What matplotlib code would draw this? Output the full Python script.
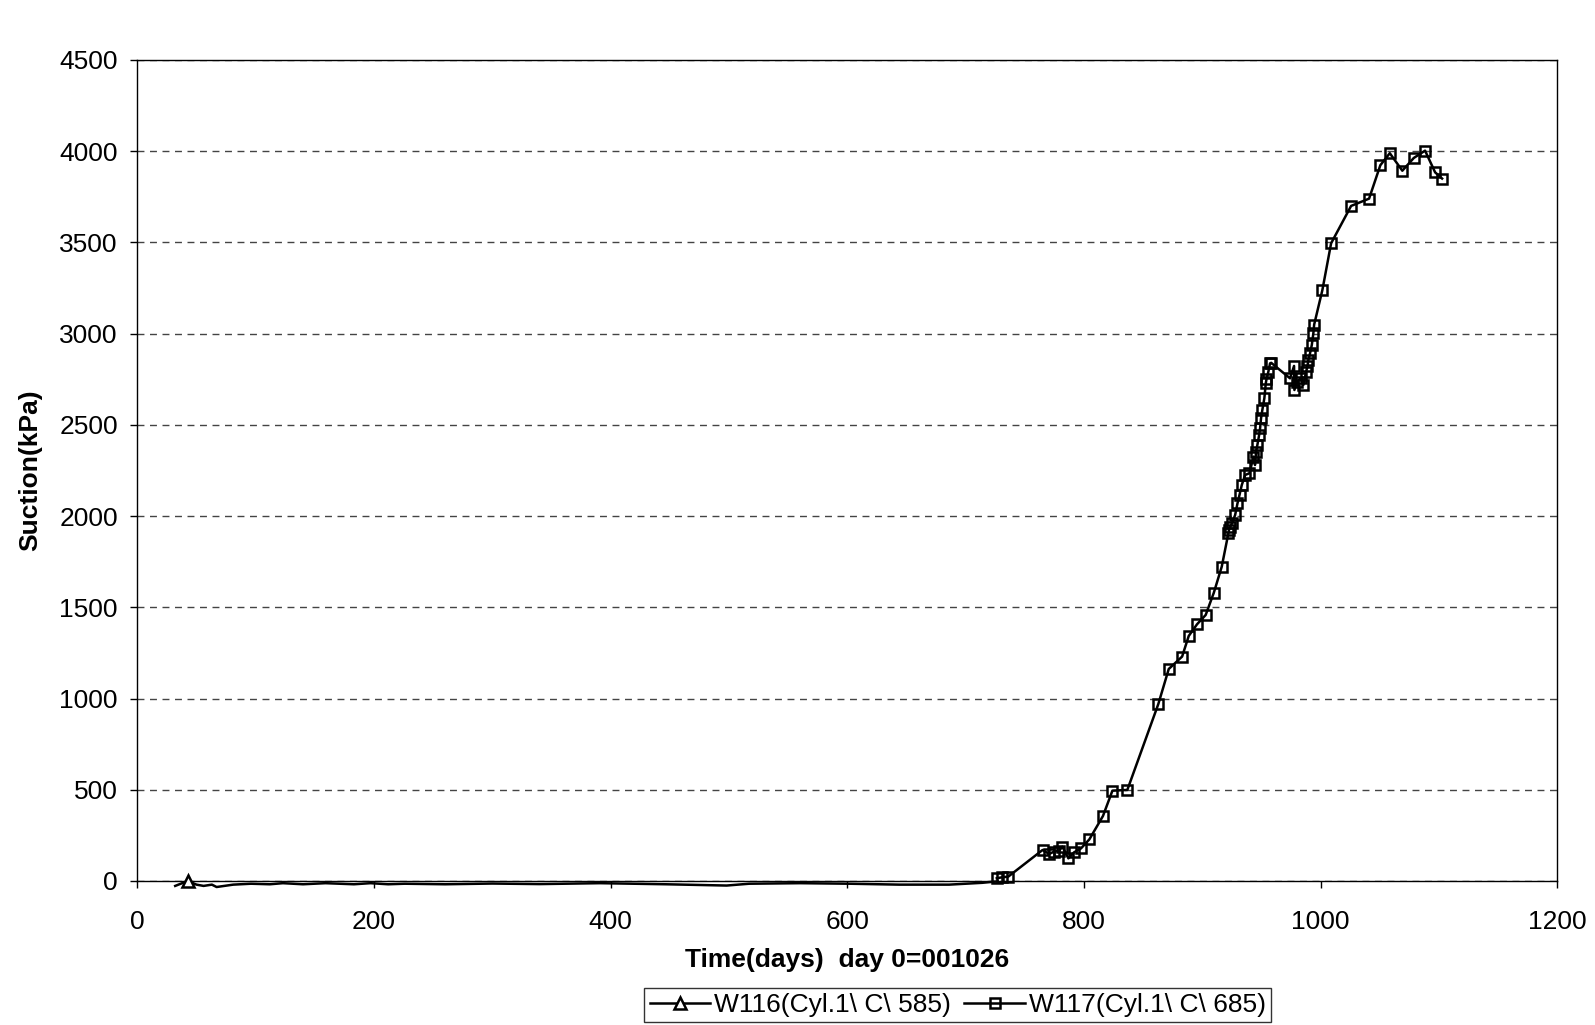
import matplotlib
matplotlib.use("Agg")
import matplotlib.pyplot as plt

plt.rcParams['font.family'] = ['Liberation Sans', 'DejaVu Sans']

# W116 (Cyl.1\ C\ 585) - only the first reading carries a marker in the original
w116_days = [32, 42.6, 50, 56, 63, 67, 81, 96, 112, 123, 140, 159, 183, 197, 212,
             226, 260, 300, 340, 391, 447, 498, 517, 560, 602, 644, 686, 714, 727]
w116_suction = [-27, 0, -20, -27, -20, -33, -20, -15, -18, -12, -18, -12, -18, -12, -18,
                -15, -18, -14, -17, -12, -18, -25, -15, -12, -15, -20, -20, -10, -2]

# W117 (Cyl.1\ C\ 685)
w117_days = [726.3, 730.5, 736, 765, 770.5, 774.7, 779, 781.7, 786.8, 791.6, 797.5,
             804.5, 816, 824, 836.6, 862.8, 871.6, 882.9, 888.5, 895.5, 902.8, 909.7,
             916.4, 922, 922.5, 923.5, 925, 927.7, 929.7, 931.4, 933.3, 936.1, 939.8,
             943.2, 944.5, 945.4, 946.5, 948, 948.8, 949.6, 950.7, 952.4, 953.6, 954.2,
             955.8, 957.2, 958.2, 974.1, 977.5, 977.8, 979.8, 983, 985.4, 987.7, 988.8,
             989.6, 991, 992.5, 993.8, 994.5, 1001.4, 1008.8, 1025.7, 1040.9, 1050.4,
             1058.4, 1069, 1078.7, 1088.2, 1096.7, 1102.6]
w117_suction = [15, 20, 24, 170, 148, 161, 166, 188, 124, 157, 179,
                228, 356, 495, 499, 970, 1162, 1230, 1343, 1407, 1458, 1580,
                1723, 1906, 1924, 1940, 1960, 2006, 2070, 2116, 2170, 2225, 2235,
                2326, 2280, 2353, 2390, 2445, 2481, 2536, 2582, 2646, 2728, 2750,
                2792, 2837, 2840, 2755, 2823, 2691, 2737, 2755, 2719, 2792, 2820,
                2856, 2892, 2938, 3002, 3050, 3238, 3495, 3700, 3740, 3923,
                3989, 3893, 3963, 4003, 3884, 3850]

x_ticks = [0, 200, 400, 600, 800, 1000, 1200]
y_ticks = [0, 500, 1000, 1500, 2000, 2500, 3000, 3500, 4000, 4500]

fig = plt.figure(figsize=(15.95, 10.25), dpi=100)
ax = fig.add_axes([0.0861, 0.1405, 0.8903, 0.801])

ax.plot(w116_days, w116_suction, color='black', lw=1.8, marker='^', markersize=9,
        markerfacecolor='white', markeredgecolor='black', markeredgewidth=1.8,
        markevery=[1], clip_on=False, zorder=3,
        label='W116(Cyl.1\\ C\\ 585)')
ax.plot(w117_days, w117_suction, color='black', lw=1.8, marker='s', markersize=7.5,
        markerfacecolor='none', markeredgecolor='black', markeredgewidth=1.8,
        clip_on=False, zorder=4,
        label='W117(Cyl.1\\ C\\ 685)')

ax.set_xlim(0, 1200)
ax.set_ylim(0, 4500)
ax.set_xticks(x_ticks)
ax.set_yticks(y_ticks)
ax.tick_params(labelsize=19, direction='out', length=5, width=1)
ax.tick_params(axis='x', pad=16)
ax.tick_params(axis='y', pad=9)
ax.yaxis.grid(True, linestyle=(0, (5, 4)), color='#444444', lw=1)
ax.set_axisbelow(True)
for s in ax.spines.values():
    s.set_color('black')
    s.set_linewidth(1)

ax.set_xlabel('Time(days)  day 0=001026', fontsize=19, fontweight='bold', labelpad=10)
ax.set_ylabel('Suction(kPa)', fontsize=19, fontweight='bold', labelpad=12)

leg = fig.legend(loc='lower center', bbox_to_anchor=(0.6006, 0.0), ncol=2,
                 fontsize=19, frameon=True, fancybox=False, shadow=False,
                 handlelength=2.3, handletextpad=0.15, columnspacing=0.5,
                 borderpad=0.2, borderaxespad=0.1)
leg.get_frame().set_edgecolor('black')
leg.get_frame().set_linewidth(1)

fig.savefig('out.png', dpi=100, facecolor='white')
